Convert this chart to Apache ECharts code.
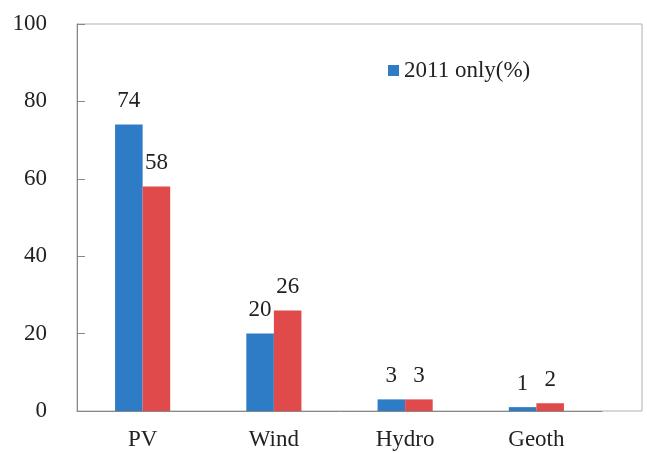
<!DOCTYPE html>
<html>
<head>
<meta charset="utf-8">
<script src="https://cdn.jsdelivr.net/npm/echarts@6/dist/echarts.min.js"></script>
<style>html,body{margin:0;padding:0;background:#fff;}#c{width:647px;height:453px;}</style>
</head>
<body>
<div id="c"></div>
<script>
const categories = ['PV', 'Wind', 'Hydro', 'Geoth'];
const series2011 = [74, 20, 3, 1];
const seriesOther = [58, 26, 3, 2];
const yTicks = [0, 20, 40, 60, 80, 100];

const chart = echarts.init(document.getElementById('c'));
const font = 'Liberation Serif, Times New Roman, serif';
const fs = 23;
chart.setOption({
  animation: false,
  textStyle: { fontFamily: font },
  legend: {
    data: ['2011 only(%)'],
    left: 383, top: 54,
    itemWidth: 11, itemHeight: 11, itemGap: 6,
    icon: 'rect',
    textStyle: { fontFamily: font, fontSize: fs, color: '#222' }
  },
  graphic: [{
    type: 'rect', silent: true, z: -1,
    shape: { x: 77, y: 24, width: 565, height: 387 },
    style: { fill: 'none', stroke: '#b0b0b0', lineWidth: 1 }
  }],
  grid: { left: 77, right: 45, top: 24, bottom: 42 },
  xAxis: {
    type: 'category',
    data: categories,
    axisLine: { lineStyle: { color: '#888' } },
    axisTick: { inside: true, length: 8, lineStyle: { color: '#888' } },
    axisLabel: { fontFamily: font, fontSize: fs, color: '#222', margin: 17 }
  },
  yAxis: {
    type: 'value', min: 0, max: 100, interval: 20,
    splitLine: { show: false },
    axisLine: { show: true, lineStyle: { color: '#888' } },
    axisTick: { show: true, inside: true, length: 8, lineStyle: { color: '#888' } },
    axisLabel: { fontFamily: font, fontSize: fs, color: '#222', margin: 30,
      formatter: v => yTicks.includes(v) ? String(v) : '' }
  },
  series: [
    {
      name: '2011 only(%)', type: 'bar', data: series2011,
      barGap: '0%', barCategoryGap: '58%',
      itemStyle: { color: '#2f7cc6' },
      label: { show: true, position: 'top', distance: 12, fontFamily: font, fontSize: fs, color: '#222' }
    },
    {
      name: 'Total(%)', type: 'bar', data: seriesOther,
      itemStyle: { color: '#e04a4b' },
      label: { show: true, position: 'top', distance: 12, fontFamily: font, fontSize: fs, color: '#222' }
    }
  ]
});
</script>
</body>
</html>
